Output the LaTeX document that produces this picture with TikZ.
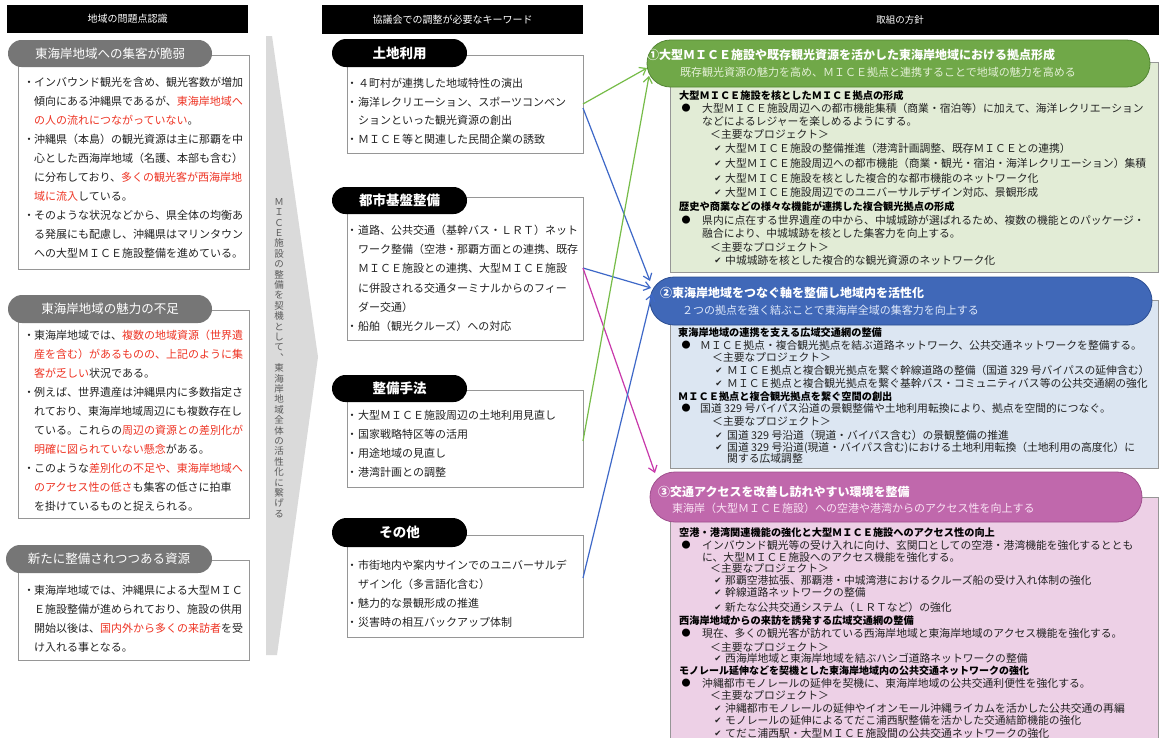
\documentclass[tikz,border=0pt]{standalone}
\usepackage{fontspec}
\setmainfont{Noto Sans CJK JP}
\newfontfamily\dejavu{DejaVu Sans}
\usetikzlibrary{arrows.meta}
\definecolor{txtc}{RGB}{35,35,35}
\definecolor{redc}{RGB}{238,52,36}
\definecolor{pillgray}{RGB}{118,118,118}
\definecolor{boxgray}{RGB}{150,150,150}
\definecolor{vgray}{RGB}{90,90,90}
\definecolor{chevc}{RGB}{218,218,218}
\definecolor{gpill}{RGB}{112,168,72}
\definecolor{gpillb}{RGB}{84,134,52}
\definecolor{gfill}{RGB}{226,236,214}
\definecolor{gsub}{RGB}{228,240,214}
\definecolor{bpill}{RGB}{64,104,184}
\definecolor{bpillb}{RGB}{44,78,146}
\definecolor{bfill}{RGB}{220,230,242}
\definecolor{bsub}{RGB}{222,232,250}
\definecolor{ppill}{RGB}{192,104,172}
\definecolor{ppillb}{RGB}{160,80,142}
\definecolor{pfill}{RGB}{237,208,230}
\definecolor{psubc}{RGB}{250,228,245}
\definecolor{garrc}{RGB}{118,188,72}
\definecolor{barrc}{RGB}{62,104,200}
\definecolor{marrc}{RGB}{200,56,170}
\newcounter{lnc}
\newcommand\Ln[4]{\stepcounter{lnc}\node[#1] (ln\thelnc) at (#2,#3) {#4};}
\newcommand\RR[1]{{\color{redc}#1}}
\begin{document}
\begin{tikzpicture}[x=1pt,y=-1pt,
  tbase/.style={inner sep=0pt,anchor=base west,yshift=-4pt},
  ltxt/.style={tbase,text=txtc,font=\fontsize{11}{13}\selectfont},
  lbul/.style={inner sep=0pt,anchor=base,yshift=-4pt,text=txtc,font=\fontsize{11}{13}\selectfont},
  rtxt/.style={tbase,text=txtc,font=\fontsize{10.8}{12}\selectfont},
  rhead/.style={tbase,text=black,font=\bfseries\fontsize{10.2}{12}\selectfont},
  rbul/.style={inner sep=0pt,anchor=base,yshift=-3.2pt,text=black,font=\fontsize{9}{10}\selectfont},
  rchk/.style={inner sep=0pt,anchor=base,yshift=-3.4pt,text=txtc,font=\dejavu\fontsize{8.5}{9}\selectfont},
  ptitle/.style={inner sep=0pt,anchor=base west,yshift=-4.6pt,text=white,font=\bfseries\fontsize{12}{14}\selectfont},
  psub/.style={inner sep=0pt,anchor=base west,yshift=-4.2pt,font=\fontsize{11}{13}\selectfont},
  hdr/.style={inner sep=0pt,text=white,font=\fontsize{10}{12}\selectfont},
  lpill/.style={inner sep=0pt,text=white,font=\fontsize{12.5}{14}\selectfont},
  mpill/.style={inner sep=0pt,text=white,font=\bfseries\fontsize{13.5}{15}\selectfont},
  vtxt/.style={inner sep=0pt,align=center,text=vgray,font=\fontsize{9.5}{10.4}\selectfont},
  framebox/.style={draw=boxgray,line width=0.9pt},
  arr/.style={line width=1.2pt,-{Straight Barb[length=6pt,width=9pt]}},
]
\useasboundingbox (0,0) rectangle (1161,737);
\fill[white] (0,0) rectangle (1161,737);

% ---------- headers ----------
\fill[black] (7,5) rectangle (248,33);
\node[hdr] (hd1) at (127.5,19) {地域の問題点認識};
\fill[black] (322,5) rectangle (583,34);
\node[hdr] (hd2) at (452.5,19.5) {協議会での調整が必要なキーワード};
\fill[black] (648,5) rectangle (1159,35);
\node[hdr,font=\fontsize{9.5}{11}\selectfont] (hd3) at (900,20) {取組の方針};

% ---------- chevron ----------
\fill[chevc] (266,36) -- (272,36) -- (318,357) -- (277,655) -- (266,655) -- cycle;
\node[vtxt] (vt) at (279,358) {Ｍ\\Ｉ\\Ｃ\\Ｅ\\施\\設\\の\\整\\備\\を\\契\\機\\と\\し\\て\\︑\\東\\海\\岸\\地\\域\\全\\体\\の\\活\\性\\化\\に\\繋\\げ\\る};

% ---------- left column ----------
\draw[framebox,fill=white] (18,55) rectangle (249,269);
\fill[pillgray,rounded corners=13.5pt] (8,40) rectangle (212,67);
\node[lpill] (lp1) at (110,53.5) {東海岸地域への集客が脆弱};
\Ln{lbul}{29}{82}{・}
\Ln{ltxt}{34}{82}{インバウンド観光を含め、観光客数が増加}
\Ln{ltxt}{34}{101}{傾向にある沖縄県であるが、\RR{東海岸地域へ}}
\Ln{ltxt}{34}{120}{\RR{の人の流れにつながっていない}。}
\Ln{lbul}{29}{139}{・}
\Ln{ltxt}{34}{139}{沖縄県（本島）の観光資源は主に那覇を中}
\Ln{ltxt}{34}{158}{心とした西海岸地域（名護、本部も含む）}
\Ln{ltxt}{34}{177.5}{に分布しており、\RR{多くの観光客が西海岸地}}
\Ln{ltxt}{34}{196.5}{\RR{域に流入}している。}
\Ln{lbul}{29}{215.5}{・}
\Ln{ltxt}{34}{215.5}{そのような状況などから、県全体の均衡あ}
\Ln{ltxt}{34}{234.5}{る発展にも配慮し、沖縄県はマリンタウン}
\Ln{ltxt}{34}{253.5}{への大型ＭＩＣＥ施設整備を進めている。}

\draw[framebox,fill=white] (18,310) rectangle (249,518);
\fill[pillgray,rounded corners=14pt] (8,295) rectangle (212,323);
\node[lpill] (lp2) at (110,309) {東海岸地域の魅力の不足};
\Ln{lbul}{29}{335}{・}
\Ln{ltxt}{34}{335}{東海岸地域では、\RR{複数の地域資源（世界遺}}
\Ln{ltxt}{34}{354}{\RR{産を含む）があるものの、上記のように集}}
\Ln{ltxt}{34}{373}{\RR{客が乏しい}状況である。}
\Ln{lbul}{29}{392}{・}
\Ln{ltxt}{34}{392}{例えば、世界遺産は沖縄県内に多数指定さ}
\Ln{ltxt}{34}{411}{れており、東海岸地域周辺にも複数存在し}
\Ln{ltxt}{34}{430}{ている。これらの\RR{周辺の資源との差別化が}}
\Ln{ltxt}{34}{449}{\RR{明確に図られていない懸念}がある。}
\Ln{lbul}{29}{468}{・}
\Ln{ltxt}{34}{468}{このような\RR{差別化の不足や、東海岸地域へ}}
\Ln{ltxt}{34}{487}{\RR{のアクセス性の低さ}も集客の低さに拍車}
\Ln{ltxt}{34}{506}{を掛けているものと捉えられる。}

\draw[framebox,fill=white] (18,560) rectangle (249,660);
\fill[pillgray,rounded corners=14pt] (6,545) rectangle (212,573);
\node[lpill] (lp3) at (109,559) {新たに整備されつつある資源};
\Ln{lbul}{29}{590}{・}
\Ln{ltxt}{34}{590}{東海岸地域では、沖縄県による大型ＭＩＣ}
\Ln{ltxt}{34}{609}{Ｅ施設整備が進められており、施設の供用}
\Ln{ltxt}{34}{628}{開始以後は、\RR{国内外から多くの来訪者}を受}
\Ln{ltxt}{34}{647}{け入れる事となる。}

% ---------- middle column ----------
\draw[framebox,fill=white] (347,55) rectangle (583,153);
\fill[black,rounded corners=14pt] (332,39) rectangle (467,67);
\node[mpill] (mp1) at (399.5,53) {土地利用};
\Ln{lbul}{352}{83}{・}
\Ln{ltxt}{358}{83}{４町村が連携した地域特性の演出}
\Ln{lbul}{352}{102}{・}
\Ln{ltxt}{358}{102}{海洋レクリエーション、スポーツコンベン}
\Ln{ltxt}{358}{120.5}{ションといった観光資源の創出}
\Ln{lbul}{352}{139}{・}
\Ln{ltxt}{358}{139}{ＭＩＣＥ等と関連した民間企業の誘致}

\draw[framebox,fill=white] (347,197) rectangle (583,340);
\fill[black,rounded corners=13.5pt] (332,187) rectangle (467,214);
\node[mpill] (mp2) at (399.5,200.5) {都市基盤整備};
\Ln{lbul}{352}{230}{・}
\Ln{ltxt}{358}{230}{道路、公共交通（基幹バス・ＬＲＴ）ネット}
\Ln{ltxt}{358}{249}{ワーク整備（空港・那覇方面との連携、既存}
\Ln{ltxt}{358}{268}{ＭＩＣＥ施設との連携、大型ＭＩＣＥ施設}
\Ln{ltxt}{358}{288}{に併設される交通ターミナルからのフィー}
\Ln{ltxt}{358}{307}{ダー交通）}
\Ln{lbul}{352}{326}{・}
\Ln{ltxt}{358}{326}{船舶（観光クルーズ）への対応}

\draw[framebox,fill=white] (347,390) rectangle (583,487);
\fill[black,rounded corners=13.5pt] (332,375) rectangle (467,402);
\node[mpill] (mp3) at (399.5,388.5) {整備手法};
\Ln{lbul}{352}{415}{・}
\Ln{ltxt}{358}{415}{大型ＭＩＣＥ施設周辺の土地利用見直し}
\Ln{lbul}{352}{434}{・}
\Ln{ltxt}{358}{434}{国家戦略特区等の活用}
\Ln{lbul}{352}{453}{・}
\Ln{ltxt}{358}{453}{用途地域の見直し}
\Ln{lbul}{352}{472}{・}
\Ln{ltxt}{358}{472}{港湾計画との調整}

\draw[framebox,fill=white] (347,535) rectangle (583,637);
\fill[black,rounded corners=14.5pt] (332,518) rectangle (467,547);
\node[mpill] (mp4) at (399.5,532.5) {その他};
\Ln{lbul}{352}{565}{・}
\Ln{ltxt}{358}{565}{市街地内や案内サインでのユニバーサルデ}
\Ln{ltxt}{358}{584}{ザイン化（多言語化含む）}
\Ln{lbul}{352}{603}{・}
\Ln{ltxt}{358}{603}{魅力的な景観形成の推進}
\Ln{lbul}{352}{622}{・}
\Ln{ltxt}{358}{622}{災害時の相互バックアップ体制}

% ---------- right column: section 1 ----------
\draw[framebox,fill=gfill] (670,62) rectangle (1158,272);
\draw[fill=gpill,draw=gpillb,line width=0.8pt,rounded corners=23.5pt] (647,40) rectangle (1150,87);
\Ln{ptitle}{647}{55}{①大型ＭＩＣＥ施設や既存観光資源を活かした東海岸地域における拠点形成}
\Ln{psub,text=gsub}{680}{72}{既存観光資源の魅力を高め、ＭＩＣＥ拠点と連携することで地域の魅力を高める}
\Ln{rhead}{679}{95}{大型ＭＩＣＥ施設を核としたＭＩＣＥ拠点の形成}
\Ln{rbul}{686}{108}{●}
\Ln{rtxt}{702}{108}{大型ＭＩＣＥ施設周辺への都市機能集積（商業・宿泊等）に加えて、海洋レクリエーション}
\Ln{rtxt}{702}{121}{などによるレジャーを楽しめるようにする。}
\Ln{rtxt}{710}{134}{＜主要なプロジェクト＞}
\Ln{rchk}{718}{148}{✔}
\Ln{rtxt}{725}{148}{大型ＭＩＣＥ施設の整備推進（港湾計画調整、既存ＭＩＣＥとの連携）}
\Ln{rchk}{718}{163}{✔}
\Ln{rtxt}{725}{163}{大型ＭＩＣＥ施設周辺への都市機能（商業・観光・宿泊・海洋レクリエーション）集積}
\Ln{rchk}{718}{178}{✔}
\Ln{rtxt}{725}{178}{大型ＭＩＣＥ施設を核とした複合的な都市機能のネットワーク化}
\Ln{rchk}{718}{192}{✔}
\Ln{rtxt}{725}{192}{大型ＭＩＣＥ施設周辺でのユニバーサルデザイン対応、景観形成}
\Ln{rhead}{679}{206}{歴史や商業などの様々な機能が連携した複合観光拠点の形成}
\Ln{rbul}{686}{220}{●}
\Ln{rtxt}{702}{220}{県内に点在する世界遺産の中から、中城城跡が選ばれるため、複数の機能とのパッケージ・}
\Ln{rtxt}{702}{233}{融合により、中城城跡を核とした集客力を向上する。}
\Ln{rtxt}{710}{247}{＜主要なプロジェクト＞}
\Ln{rchk}{718}{260}{✔}
\Ln{rtxt}{725}{260}{中城城跡を核とした複合的な観光資源のネットワーク化}

% ---------- section 2 ----------
\draw[framebox,fill=bfill] (670,300) rectangle (1158,468);
\draw[fill=bpill,draw=bpillb,line width=0.8pt,rounded corners=24pt] (650,277) rectangle (1152,325);
\Ln{ptitle}{660}{293}{②東海岸地域をつなぐ軸を整備し地域内を活性化}
\Ln{psub,text=bsub}{682}{310}{２つの拠点を強く結ぶことで東海岸全域の集客力を向上する}
\Ln{rhead}{678}{332}{東海岸地域の連携を支える広域交通網の整備}
\Ln{rbul}{686}{345}{●}
\Ln{rtxt}{700}{345}{ＭＩＣＥ拠点・複合観光拠点を結ぶ道路ネットワーク、公共交通ネットワークを整備する。}
\Ln{rtxt}{712}{357}{＜主要なプロジェクト＞}
\Ln{rchk}{719}{370}{✔}
\Ln{rtxt}{727}{370}{ＭＩＣＥ拠点と複合観光拠点を繋ぐ幹線道路の整備（国道 329 号バイパスの延伸含む）}
\Ln{rchk}{719}{383}{✔}
\Ln{rtxt}{727}{383}{ＭＩＣＥ拠点と複合観光拠点を繋ぐ基幹バス・コミュニティバス等の公共交通網の強化}
\Ln{rhead}{678}{396}{ＭＩＣＥ拠点と複合観光拠点を繋ぐ空間の創出}
\Ln{rbul}{686}{408}{●}
\Ln{rtxt}{700}{408}{国道 329 号バイパス沿道の景観整備や土地利用転換により、拠点を空間的につなぐ。}
\Ln{rtxt}{712}{421}{＜主要なプロジェクト＞}
\Ln{rchk}{719}{435}{✔}
\Ln{rtxt}{727}{435}{国道 329 号沿道（現道・バイパス含む）の景観整備の推進}
\Ln{rchk}{719}{447}{✔}
\Ln{rtxt}{727}{447}{国道 329 号沿道(現道・バイパス含む)における土地利用転換（土地利用の高度化）に}
\Ln{rtxt}{727}{458}{関する広域調整}

% ---------- section 3 ----------
\draw[framebox,fill=pfill] (670,497) rectangle (1158,745);
\draw[fill=ppill,draw=ppillb,line width=0.8pt,rounded corners=25pt] (650,472) rectangle (1142,522);
\Ln{ptitle}{658}{492}{③交通アクセスを改善し訪れやすい環境を整備}
\Ln{psub,text=psubc}{672}{508}{東海岸（大型ＭＩＣＥ施設）への空港や港湾からのアクセス性を向上する}
\Ln{rhead}{679}{532}{空港・港湾関連機能の強化と大型ＭＩＣＥ施設へのアクセス性の向上}
\Ln{rbul}{686}{545}{●}
\Ln{rtxt}{702}{545}{インバウンド観光等の受け入れに向け、玄関口としての空港・港湾機能を強化するととも}
\Ln{rtxt}{702}{557}{に、大型ＭＩＣＥ施設へのアクセス機能を強化する。}
\Ln{rtxt}{710}{568}{＜主要なプロジェクト＞}
\Ln{rchk}{718}{580}{✔}
\Ln{rtxt}{725}{580}{那覇空港拡張、那覇港・中城湾港におけるクルーズ船の受け入れ体制の強化}
\Ln{rchk}{718}{592}{✔}
\Ln{rtxt}{725}{592}{幹線道路ネットワークの整備}
\Ln{rchk}{718}{607}{✔}
\Ln{rtxt}{725}{607}{新たな公共交通システム（ＬＲＴなど）の強化}
\Ln{rhead}{679}{620}{西海岸地域からの来訪を誘発する広域交通網の整備}
\Ln{rbul}{686}{633}{●}
\Ln{rtxt}{702}{633}{現在、多くの観光客が訪れている西海岸地域と東海岸地域のアクセス機能を強化する。}
\Ln{rtxt}{710}{647}{＜主要なプロジェクト＞}
\Ln{rchk}{718}{658}{✔}
\Ln{rtxt}{725}{658}{西海岸地域と東海岸地域を結ぶハシゴ道路ネットワークの整備}
\Ln{rhead,font=\bfseries\fontsize{10}{12}\selectfont}{679}{670}{モノレール延伸などを契機とした東海岸地域内の公共交通ネットワークの強化}
\Ln{rbul}{686}{683}{●}
\Ln{rtxt}{702}{683}{沖縄都市モノレールの延伸を契機に、東海岸地域の公共交通利便性を強化する。}
\Ln{rtxt}{710}{695}{＜主要なプロジェクト＞}
\Ln{rchk}{718}{708}{✔}
\Ln{rtxt}{725}{708}{沖縄都市モノレールの延伸やイオンモール沖縄ライカムを活かした公共交通の再編}
\Ln{rchk}{718}{720}{✔}
\Ln{rtxt}{725}{720}{モノレールの延伸によるてだこ浦西駅整備を活かした交通結節機能の強化}
\Ln{rchk}{718}{733}{✔}
\Ln{rtxt}{725}{733}{てだこ浦西駅・大型ＭＩＣＥ施設間の公共交通ネットワークの強化}

% ---------- connectors ----------
\coordinate (tochiA) at (583,104);
\coordinate (tochiB) at (583,108);
\coordinate (toshiA) at (583,268);
\coordinate (seibiA) at (583,441);
\coordinate (sonotaA) at (583,578);
\coordinate (s1inA) at (647,68);
\coordinate (s1inB) at (649,76);
\coordinate (s2inA) at (650,281);
\coordinate (s2inB) at (651,288);
\coordinate (s2inC) at (652,294);
\coordinate (s3inA) at (655,473);
\draw[arr,garrc] (tochiA) -- (s1inA);
\draw[arr,barrc] (tochiB) -- (s2inA);
\draw[arr,barrc] (toshiA) -- (s2inB);
\draw[arr,marrc] (toshiA) -- (s3inA);
\draw[arr,garrc] (seibiA) -- (s1inB);
\draw[arr,barrc] (sonotaA) -- (s2inC);
\end{tikzpicture}
\end{document}
